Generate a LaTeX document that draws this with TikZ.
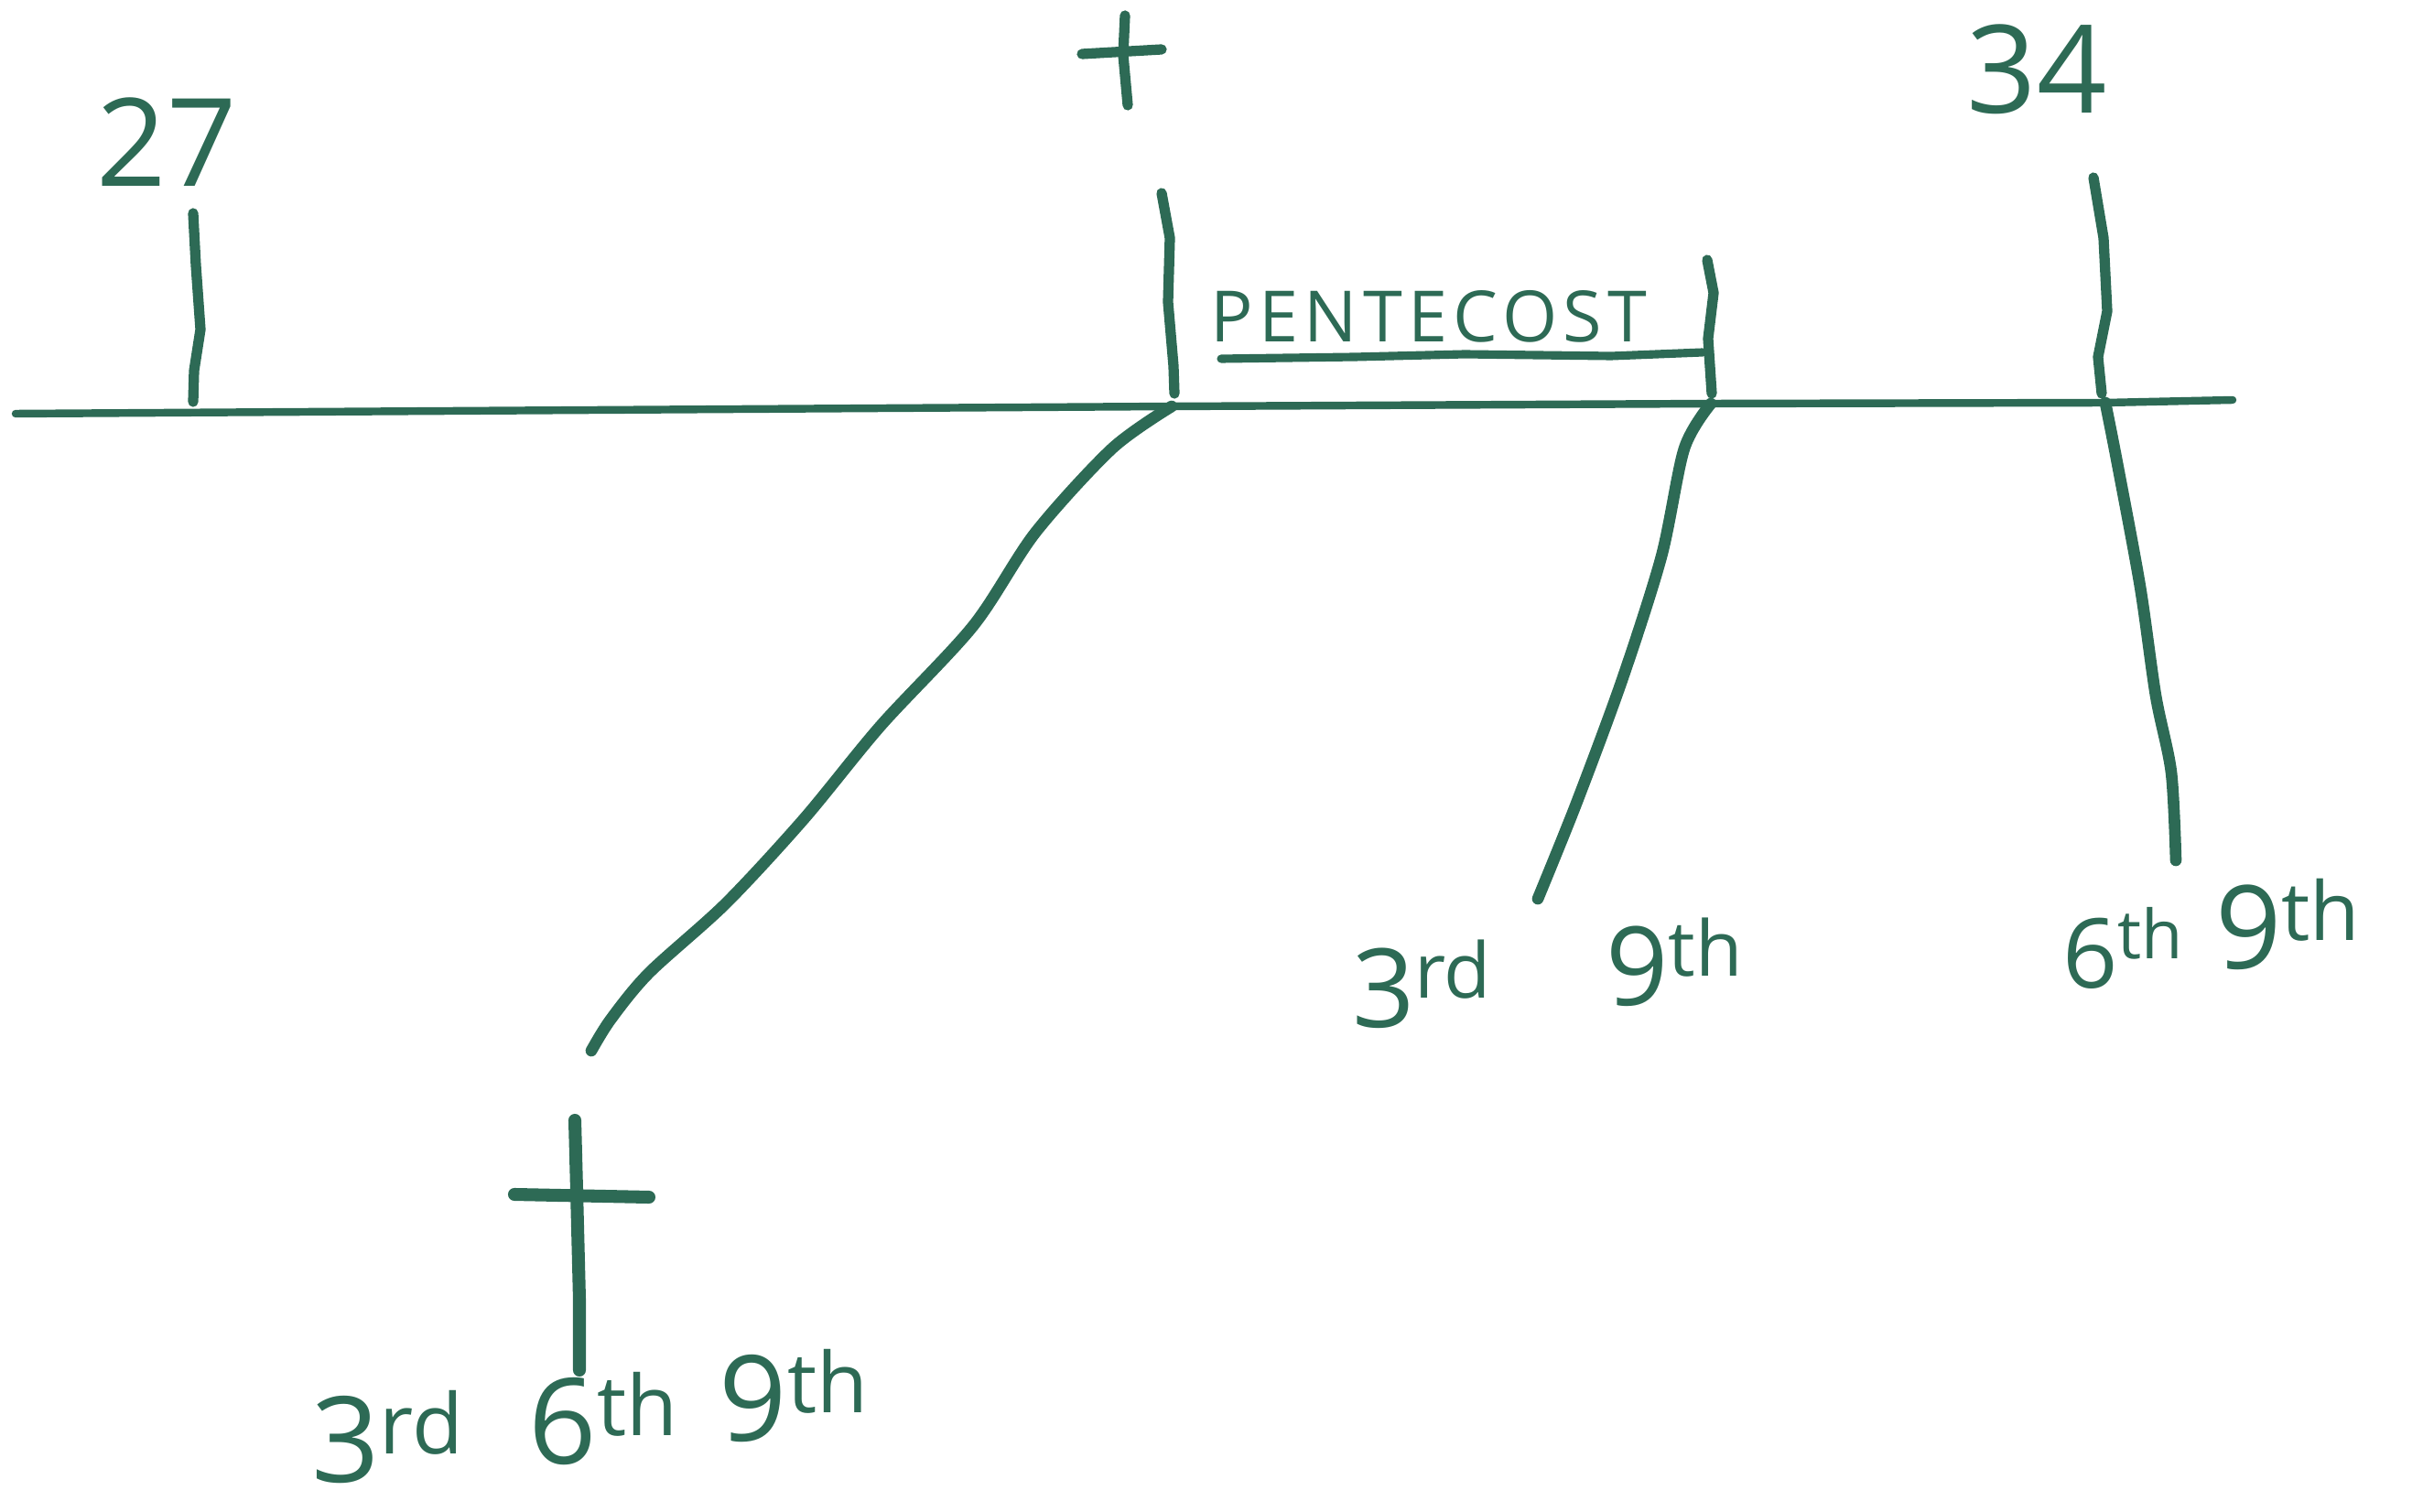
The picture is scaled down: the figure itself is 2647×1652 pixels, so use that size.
\documentclass[tikz,border=0pt]{standalone}
\usepackage{fontspec}
\setmainfont{Open Sans}
\usepackage{xcolor}
\definecolor{ink}{RGB}{45,106,85}

\begin{document}
\begin{tikzpicture}[x=0.01cm, y=-0.01cm, line cap=round, line join=round,
    thin ink/.style={draw=ink, line width=2pt},
    thick ink/.style={draw=ink, line width=3.2pt},
    label/.style={text=ink, inner sep=0pt}]
    \useasboundingbox (0,0) rectangle (2647,1652);

    % Timeline
    \coordinate (start) at (17,452);
    \coordinate (cross) at (1280,444);
    \coordinate (pent) at (1869,441);
    \coordinate (end) at (2300,440);
    \coordinate (stop) at (2439,437);
    \draw[thin ink, line width=2.4pt] (start) -- (cross) -- (pent) -- (end) -- (stop);

    % Year 27
    \node[label, font=\fontsize{38}{38}\selectfont] (y27) at (182,155) {27};
    \draw[thick ink] (211,233) -- (214,290) -- (219,360) -- (212,405) -- (211,439);

    % Crucifixion
    \draw[thick ink] (1229,17) -- (1227,60) -- (1232,115);
    \draw[thick ink] (1182,59) -- (1269,54);
    \draw[thick ink] (1269,211) -- (1278,260) -- (1276,330) -- (1282,400) -- (1283,430);

    % Pentecost
    \node[label, font=\fontsize{22}{22}\selectfont\addfontfeatures{LetterSpace=8}] (pentecost) at (1561,346) {PENTECOST};
    \draw[thin ink, line width=2.6pt] (1334,392) -- (1480,390) -- (1600,387) -- (1760,389) -- (1860,385);
    \draw[thick ink] (1865,284) -- (1872,320) -- (1866,370) -- (1870,430);

    % Year 34
    \node[label, font=\fontsize{38}{38}\selectfont] (y34) at (2225,76) {34};
    \draw[thick ink] (2287,194) -- (2298,260) -- (2302,340) -- (2292,390) -- (2296,430);

    % Lines down to the hours
    \coordinate (low) at (646,1148);
    \coordinate (mid) at (1680,982);
    \coordinate (right) at (2377,940);
    \draw[thick ink, line width=3.6pt] plot[smooth] coordinates {(cross) (1215,490) (1131,582) (1063,684)
        (962,793) (878,895) (793,987) (709,1063) (667,1114) (low)};
    \draw[thick ink, line width=3.6pt] plot[smooth] coordinates {(pent) (1840,490) (1815,608) (1772,743)
        (1722,878) (mid)};
    \draw[thick ink, line width=3.6pt] plot[smooth] coordinates {(end) (2313,506) (2338,641) (2355,760)
        (2372,844) (right)};

    % Cross at the bottom
    \draw[thick ink, line width=4pt] (628,1224) -- (630,1300) -- (633,1420) -- (633,1497);
    \draw[thick ink, line width=4pt] (562,1305) -- (709,1308);

    % Hours
    \node[label, font=\fontsize{37}{37}\selectfont] (h3a) at (424,1570) {3\textsuperscript{rd}};
    \node[label, font=\fontsize{37}{37}\selectfont] (h6a) at (660,1550) {6\textsuperscript{th}};
    \node[label, font=\fontsize{37}{37}\selectfont] (h9a) at (868,1525) {9\textsuperscript{th}};
    \node[label, font=\fontsize{34}{34}\selectfont] (h3b) at (1554,1075) {3\textsuperscript{rd}};
    \node[label, font=\fontsize{34}{34}\selectfont] (h9b) at (1830,1051) {9\textsuperscript{th}};
    \node[label, font=\fontsize{30}{30}\selectfont] (h6c) at (2320,1036) {6\textsuperscript{th}};
    \node[label, font=\fontsize{36}{36}\selectfont] (h9c) at (2500,1010) {9\textsuperscript{th}};
\end{tikzpicture}
\end{document}
